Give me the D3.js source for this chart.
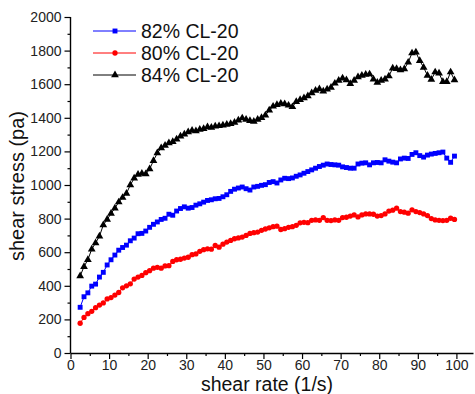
<!DOCTYPE html>
<html>
<head>
<meta charset="utf-8">
<script src="https://cdn.jsdelivr.net/npm/d3@7"></script>
<style>
  html, body { margin: 0; padding: 0; background: #fff; }
  svg { display: block; font-family: "Liberation Sans", Arial, sans-serif; }
</style>
</head>
<body>
<svg id="chart" width="475" height="394"></svg>
<script>
const shearRate = [
  2.5, 3.5, 4.5, 5.5, 6.5, 7.5, 8.5, 9.5, 10.5, 11.5,
  12.5, 13.5, 14.5, 15.5, 16.5, 17.5, 18.5, 19.5, 20.5, 21.5,
  22.5, 23.5, 24.5, 25.5, 26.5, 27.5, 28.5, 29.5, 30.5, 31.5,
  32.5, 33.5, 34.5, 35.5, 36.5, 37.5, 38.5, 39.5, 40.5, 41.5,
  42.5, 43.5, 44.5, 45.5, 46.5, 47.5, 48.5, 49.5, 50.5, 51.5,
  52.5, 53.5, 54.5, 55.5, 56.5, 57.5, 58.5, 59.5, 60.5, 61.5,
  62.5, 63.5, 64.5, 65.5, 66.5, 67.5, 68.5, 69.5, 70.5, 71.5,
  72.5, 73.5, 74.5, 75.5, 76.5, 77.5, 78.5, 79.5, 80.5, 81.5,
  82.5, 83.5, 84.5, 85.5, 86.5, 87.5, 88.5, 89.5, 90.5, 91.5,
  92.5, 93.5, 94.5, 95.5, 96.5, 97.5, 98.5, 99.5
];

const stress82 = [
  272, 335, 358, 398, 410, 452, 480, 524, 555, 583,
  612, 628, 642, 668, 684, 710, 712, 726, 748, 766,
  780, 795, 802, 826, 820, 845, 860, 870, 862, 866,
  880, 888, 898, 908, 912, 918, 920, 930, 942, 962,
  975, 982, 988, 978, 970, 988, 992, 998, 1002, 1015,
  1020, 1012, 1030, 1040, 1038, 1042, 1052, 1060, 1070, 1080,
  1090, 1100, 1110, 1118, 1125, 1122, 1120, 1118, 1108, 1104,
  1100, 1100, 1125, 1130, 1132, 1120, 1132, 1134, 1132, 1150,
  1142, 1136, 1132, 1155, 1160, 1158, 1182, 1192, 1175, 1166,
  1178, 1184, 1188, 1192, 1196, 1160, 1135, 1172
];

const stress80 = [
  177, 212, 234, 248, 270, 285, 298, 322, 330, 345,
  360, 388, 400, 412, 440, 452, 462, 478, 490, 505,
  510, 505, 518, 520, 545, 555, 558, 565, 570, 585,
  590, 605, 615, 620, 618, 640, 630, 648, 660, 670,
  680, 685, 690, 700, 712, 716, 720, 730, 738, 745,
  752, 755, 735, 740, 748, 752, 760, 775, 778, 776,
  790, 792, 790, 806, 790, 788, 792, 790, 806, 808,
  815, 822, 810, 822, 828, 828, 826, 815, 818, 828,
  845, 850, 862, 842, 838, 832, 852, 842, 836, 828,
  818, 800, 792, 790, 788, 790, 802, 795
];

const stress84 = [
  458, 514, 555, 618, 655, 695, 762, 795, 830, 862,
  898, 925, 950, 1000, 1040, 1062, 1068, 1065, 1095, 1145,
  1190, 1220, 1235, 1250, 1258, 1272, 1290, 1302, 1315, 1325,
  1322, 1330, 1335, 1345, 1342, 1350, 1352, 1356, 1360, 1365,
  1372, 1385, 1398, 1390, 1382, 1378, 1390, 1400, 1415, 1445,
  1468, 1478, 1485, 1482, 1474, 1465, 1495, 1508, 1518, 1530,
  1548, 1562, 1572, 1558, 1570, 1580, 1605, 1622, 1635, 1625,
  1603, 1622, 1643, 1652, 1658, 1660, 1630, 1610, 1622, 1630,
  1648, 1695, 1692, 1685, 1690, 1730, 1785, 1790, 1740, 1700,
  1652, 1628, 1672, 1665, 1615, 1615, 1672, 1625
];

const seriesNames = ["82% CL-20", "80% CL-20", "84% CL-20"];
const seriesColours = ["#0000ff", "#ff0000", "#000000"];
const seriesMarkers = ["square", "circle", "triangle"];
const yTicks = [0, 200, 400, 600, 800, 1000, 1200, 1400, 1600, 1800, 2000];
const yMinorTicks = [100, 300, 500, 700, 900, 1100, 1300, 1500, 1700, 1900];
const xTicks = [0, 10, 20, 30, 40, 50, 60, 70, 80, 90, 100];
const xMinorTicks = [5, 15, 25, 35, 45, 55, 65, 75, 85, 95];

const series = [
  { name: seriesNames[0], colour: seriesColours[0], marker: seriesMarkers[0], values: stress82 },
  { name: seriesNames[1], colour: seriesColours[1], marker: seriesMarkers[1], values: stress80 },
  { name: seriesNames[2], colour: seriesColours[2], marker: seriesMarkers[2], values: stress84 }
];

const fontFamily = "'Liberation Sans', Arial, sans-serif";
const svg = d3.select("#chart");

const xScale = d3.scaleLinear().domain([0, 104.3]).range([70.5, 473]);
const yScale = d3.scaleLinear().domain([0, 2000]).range([353, 17]);

const symbolFor = {
  square: d3.symbol().type(d3.symbolSquare).size(24),
  circle: d3.symbol().type(d3.symbolCircle).size(22),
  triangle: d3.symbol().type(d3.symbolTriangle).size(26)
};

// axes
const yAxis = svg.append("g")
  .attr("transform", `translate(${xScale(0)}, 0)`)
  .call(d3.axisLeft(yScale).tickValues(yTicks).tickSize(6).tickPadding(3).tickFormat(d3.format("d")));
svg.append("g")
  .attr("transform", `translate(${xScale(0)}, 0)`)
  .call(d3.axisLeft(yScale).tickValues(yMinorTicks).tickSize(3).tickFormat(""))
  .select(".domain").remove();

const xAxis = svg.append("g")
  .attr("transform", `translate(0, ${yScale(0)})`)
  .call(d3.axisBottom(xScale).tickValues(xTicks).tickSize(6).tickPadding(1).tickSizeOuter(0).tickFormat(d3.format("d")));
svg.append("g")
  .attr("transform", `translate(0, ${yScale(0)})`)
  .call(d3.axisBottom(xScale).tickValues(xMinorTicks).tickSize(3).tickFormat(""))
  .select(".domain").remove();

svg.selectAll("g").attr("font-family", fontFamily);
svg.selectAll(".domain").attr("stroke", "#000").attr("stroke-width", 1.4);
svg.selectAll(".tick line").attr("stroke", "#000").attr("stroke-width", 1.2);
svg.selectAll(".tick text")
  .attr("font-family", fontFamily)
  .attr("font-size", 14)
  .attr("fill", "#222");
yAxis.select(".domain").attr("d", `M0,${yScale(2000)}V${yScale(0)}`);

// axis titles
svg.append("text")
  .attr("x", 267)
  .attr("y", 391)
  .attr("text-anchor", "middle")
  .attr("font-family", fontFamily)
  .attr("font-size", 19.5)
  .attr("fill", "#111")
  .text("shear rate (1/s)");

svg.append("text")
  .attr("transform", `translate(24, 186) rotate(-90)`)
  .attr("text-anchor", "middle")
  .attr("font-family", fontFamily)
  .attr("font-size", 20)
  .attr("fill", "#111")
  .text("shear stress (pa)");

// lines + markers
const line = d3.line()
  .x((d, i) => xScale(shearRate[i]))
  .y(d => yScale(d));

const groups = svg.selectAll("g.series")
  .data(series)
  .join("g")
  .attr("class", "series");

groups.append("path")
  .attr("d", d => line(d.values))
  .attr("fill", "none")
  .attr("stroke", d => d.colour)
  .attr("stroke-width", 1);

groups.each(function(s) {
  d3.select(this).selectAll("path.mark")
    .data(s.values)
    .join("path")
    .attr("class", "mark")
    .attr("d", symbolFor[s.marker])
    .attr("transform", (d, i) => `translate(${xScale(shearRate[i])}, ${yScale(d)})`)
    .attr("fill", s.colour);
});

// legend
const legend = svg.append("g").attr("transform", "translate(93, 31)");
const legendRows = legend.selectAll("g")
  .data(series)
  .join("g")
  .attr("transform", (d, i) => `translate(0, ${i * 22})`);

legendRows.append("line")
  .attr("x1", 0).attr("x2", 43)
  .attr("y1", 0).attr("y2", 0)
  .attr("stroke", d => d.colour)
  .attr("stroke-width", 1);

legendRows.append("path")
  .attr("d", d => symbolFor[d.marker]())
  .attr("transform", "translate(22, 0)")
  .attr("fill", d => d.colour);

legendRows.append("text")
  .attr("x", 48)
  .attr("y", 7)
  .attr("font-family", fontFamily)
  .attr("font-size", 19.5)
  .attr("fill", "#111")
  .text(d => d.name);
</script>
</body>
</html>
